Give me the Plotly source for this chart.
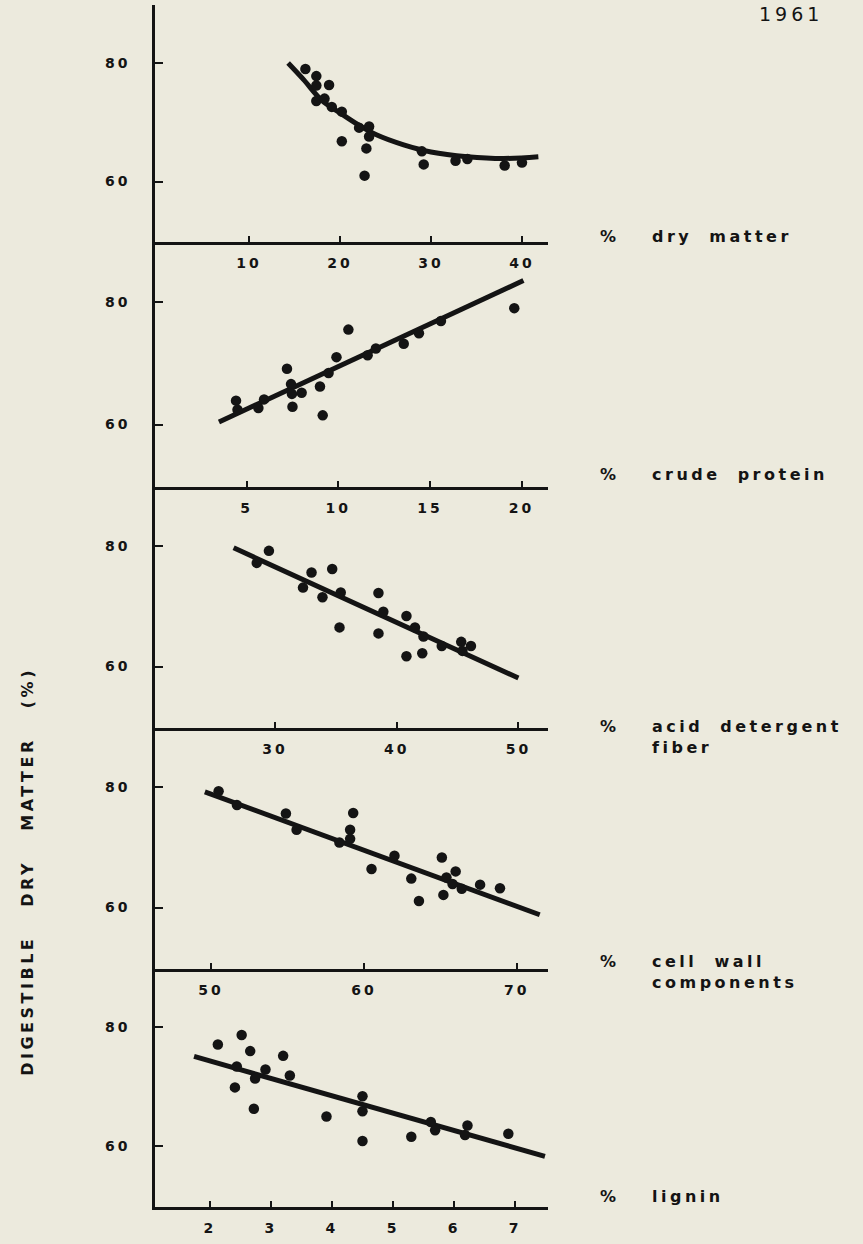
import plotly.graph_objects as go

W, H = 863, 1244
INK = "#141414"
BG = "#ECEADD"
FONT = "DejaVu Sans"

# ---------------- data ----------------
# Panel 1: % dry matter
dm_x = [16.2, 17.4, 18.8, 17.4, 17.4, 18.3, 19.1, 20.2, 20.2, 23.2, 23.2, 22.9, 22.7, 22.1, 29.0, 29.2, 32.7, 34.0, 38.1, 40.0]
dm_y = [79.0, 77.8, 76.3, 76.2, 73.6, 74.0, 72.6, 71.8, 66.8, 69.3, 67.6, 65.6, 61.0, 69.1, 65.1, 62.9, 63.5, 63.8, 62.7, 63.2]
dm_curve_x = [14.3, 16.0, 18.0, 20.0, 22.0, 24.0, 27.0, 30.0, 34.0, 38.0, 41.8]
dm_curve_y = [80.0, 77.2, 73.7, 71.6, 69.6, 67.9, 66.2, 65.0, 64.2, 63.9, 64.2]

# Panel 2: % crude protein
cp_x = [4.42, 4.5, 5.64, 5.95, 7.2, 7.42, 7.47, 7.5, 8.0, 9.0, 9.15, 9.47, 9.9, 10.55, 11.6, 12.05, 13.57, 14.4, 15.6, 19.6]
cp_y = [63.9, 62.4, 62.7, 64.1, 69.1, 66.6, 65.0, 62.9, 65.2, 66.2, 61.5, 68.4, 71.0, 75.5, 71.3, 72.4, 73.2, 74.9, 76.9, 79.0]
cp_line_x = [3.49, 20.1]
cp_line_y = [60.4, 83.5]

# Panel 3: % acid detergent fiber
adf_x = [28.5, 29.5, 32.3, 33.0, 33.9, 34.7, 35.4, 35.3, 38.5, 38.9, 38.5, 40.8, 41.5, 40.8, 42.2, 42.1, 43.7, 45.3, 45.4, 46.1]
adf_y = [77.2, 79.2, 73.1, 75.6, 71.5, 76.2, 72.3, 66.5, 72.2, 69.1, 65.5, 68.4, 66.5, 61.7, 65.0, 62.2, 63.4, 64.1, 62.6, 63.4]
adf_line_x = [26.6, 50.0]
adf_line_y = [79.7, 58.1]

# Panel 4: % cell wall components
cw_x = [50.5, 51.7, 54.9, 55.6, 58.4, 59.3, 59.1, 59.1, 60.5, 62.0, 63.1, 63.6, 65.1, 65.4, 65.2, 66.0, 65.8, 66.4, 67.6, 68.9]
cw_y = [79.3, 77.0, 75.6, 72.9, 70.8, 75.7, 72.9, 71.4, 66.4, 68.6, 64.8, 61.1, 68.3, 65.0, 62.1, 66.0, 63.9, 63.1, 63.8, 63.2]
cw_line_x = [49.6, 71.5]
cw_line_y = [79.2, 58.8]

# Panel 5: % lignin
lg_x = [2.13, 2.52, 2.66, 2.44, 2.41, 2.74, 2.72, 2.91, 3.2, 3.31, 3.91, 4.5, 4.5, 4.5, 5.3, 5.62, 5.69, 6.22, 6.18, 6.89]
lg_y = [77.1, 78.7, 76.0, 73.4, 69.9, 71.4, 66.3, 72.9, 75.2, 71.9, 65.0, 68.4, 65.9, 60.9, 61.6, 64.1, 62.7, 63.5, 61.9, 62.1]
lg_line_x = [1.74, 7.49]
lg_line_y = [75.1, 58.3]

x_ranges = [[-0.33, 42.86], [0.0, 21.44], [20.14, 52.43], [46.34, 72.04], [1.10, 7.54]]
x_ticks = [[10, 20, 30, 40], [5, 10, 15, 20], [30, 40, 50], [50, 60, 70], [2, 3, 4, 5, 6, 7]]
y_range = [49.8, 89.8]
y_ticks = [60, 80]

panel_labels = ["dry matter", "crude protein", "acid detergent<br>fiber", "cell wall<br>components", "lignin"]
y_title = "DIGESTIBLE DRY MATTER (%)"
year = "1961"

# ---------------- layout geometry (pixels) ----------------
plot_left, plot_right = 155, 548
panel_px = [(5, 242), (242, 487), (487, 728), (728, 969), (969, 1207)]
label_px_y = [236, 474, 726, 961, 1196]

scatter_sets = [(dm_x, dm_y), (cp_x, cp_y), (adf_x, adf_y), (cw_x, cw_y), (lg_x, lg_y)]
line_sets = [(dm_curve_x, dm_curve_y), (cp_line_x, cp_line_y), (adf_line_x, adf_line_y),
             (cw_line_x, cw_line_y), (lg_line_x, lg_line_y)]

fig = go.Figure()
for i in range(5):
    ax = "" if i == 0 else str(i + 1)
    lx, ly = line_sets[i]
    fig.add_trace(go.Scatter(
        x=lx, y=ly, mode="lines", xaxis="x" + ax, yaxis="y" + ax,
        line=dict(color=INK, width=5, shape="spline" if i == 0 else "linear", smoothing=1.0),
        showlegend=False, hoverinfo="skip"))
    sx, sy = scatter_sets[i]
    fig.add_trace(go.Scatter(
        x=sx, y=sy, mode="markers", xaxis="x" + ax, yaxis="y" + ax,
        marker=dict(color=INK, size=10.5, line=dict(width=0)),
        showlegend=False))

layout = dict(
    width=W, height=H,
    margin=dict(l=0, r=0, t=0, b=0),
    paper_bgcolor=BG, plot_bgcolor=BG,
    font=dict(family=FONT, color=INK, size=15),
    showlegend=False,
)
xdom = [plot_left / W, plot_right / W]
tickfont = dict(family=FONT, size=14, color=INK, weight="bold")
for i in range(5):
    top, bot = panel_px[i]
    ydom = [1 - bot / H, 1 - top / H]
    key = "" if i == 0 else str(i + 1)
    layout["xaxis" + key] = dict(
        domain=xdom, range=x_ranges[i], tickvals=x_ticks[i], anchor="y" + key,
        showline=True, linecolor=INK, linewidth=2.5, mirror=False,
        ticks="inside", ticklen=6, tickwidth=2, tickcolor=INK,
        showgrid=False, zeroline=False, ticklabelstandoff=6,
        tickfont=tickfont)
    layout["yaxis" + key] = dict(
        domain=ydom, range=y_range, tickvals=y_ticks, anchor="x" + key,
        showline=True, linecolor=INK, linewidth=2.5,
        ticks="inside", ticklen=8, tickwidth=2, tickcolor=INK,
        showgrid=False, zeroline=False, ticklabelstandoff=19,
        tickfont=tickfont)

labfont = dict(family=FONT, size=16, color=INK, weight="bold")
annotations = []
for i in range(5):
    yp = label_px_y[i]
    annotations.append(dict(text="%", x=598 / W, y=1 - yp / H, xref="paper", yref="paper",
                            xanchor="left", yanchor="middle", align="left", showarrow=False,
                            font=labfont))
    annotations.append(dict(text=panel_labels[i], x=650 / W, y=1 - (yp - 11) / H,
                            xref="paper", yref="paper", xanchor="left", yanchor="top",
                            align="left", showarrow=False, font=labfont))
annotations.append(dict(text=year, x=757 / W, y=1 - 14 / H, xref="paper", yref="paper",
                        xanchor="left", yanchor="middle", align="left", showarrow=False,
                        font=dict(family=FONT, size=19, color=INK)))
annotations.append(dict(text=y_title, x=27 / W, y=1 - 872 / H, xref="paper", yref="paper",
                        xanchor="center", yanchor="middle", textangle=-90, showarrow=False,
                        font=dict(family=FONT, size=16, color=INK, weight="bold")))
layout["annotations"] = annotations

fig.update_layout(**layout)

# widen the letter spacing of the typewritten-style lettering
post = """
var gd = document.getElementById('{plot_id}');
function track(){
  gd.querySelectorAll('.xaxislayer-above text, .yaxislayer-above text').forEach(function(t){
    t.style.letterSpacing = '3px';
  });
  gd.querySelectorAll('.annotation-text').forEach(function(t){
    var s = t.textContent;
    if (s === '1961') { t.style.letterSpacing = '4px'; }
    else if (s.indexOf('DIGESTIBLE') === 0) { t.style.letterSpacing = '3.5px'; t.style.wordSpacing = '20px'; }
    else { t.style.letterSpacing = '3.5px'; t.style.wordSpacing = '8px'; }
  });
}
track();
if (gd.on) { gd.on('plotly_afterplot', track); }
"""
fig.write_html("out.html", post_script=post)
